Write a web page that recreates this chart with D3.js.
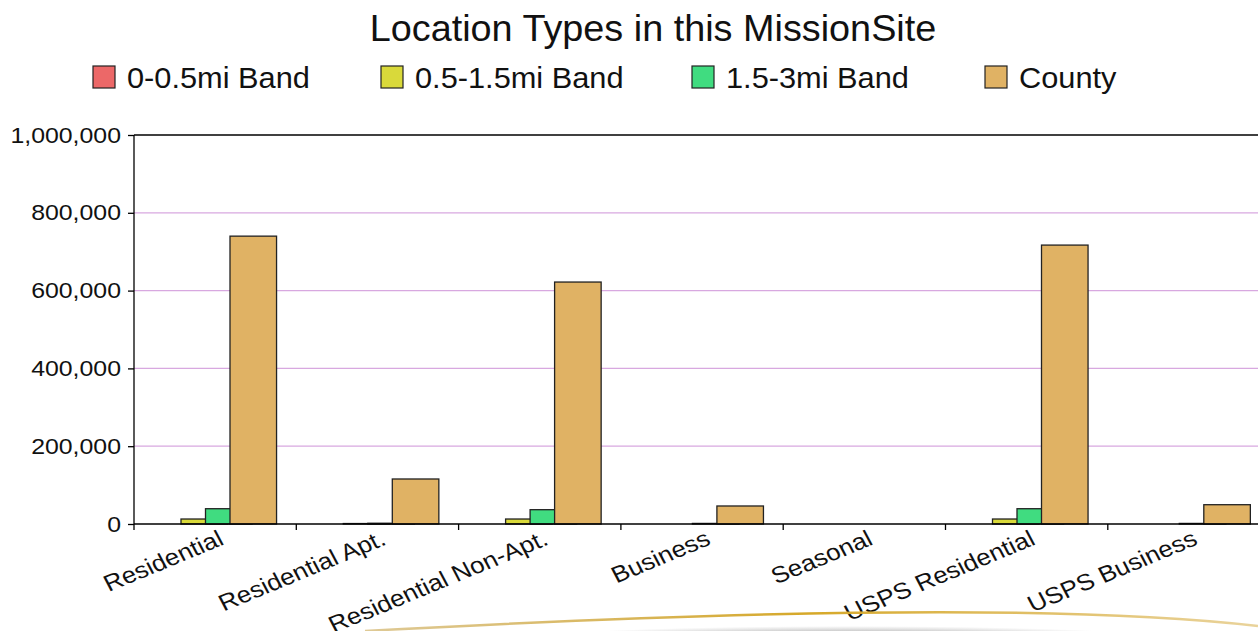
<!DOCTYPE html>
<html>
<head>
<meta charset="utf-8">
<script src="https://cdn.jsdelivr.net/npm/d3@7"></script>
<style>
  body { margin: 0; background: #fff; }
  svg text { font-family: "Liberation Sans", Arial, sans-serif; fill: #111; }
</style>
</head>
<body>
<svg id="chart" width="1258" height="631"></svg>
<script>
let categories = [
  "Residential",
  "Residential Apt.",
  "Residential Non-Apt.",
  "Business",
  "Seasonal",
  "USPS Residential",
  "USPS Business"
];
let seriesNames = ["0-0.5mi Band", "0.5-1.5mi Band", "1.5-3mi Band", "County"];
let colors = ["#ec6868", "#d9d93a", "#40dc80", "#e0b264"];

// one array per series, same order as categories
let band0 = [0, 0, 0, 0, 0, 0, 0];
let band1 = [12800, 1200, 12800, 0, 0, 12800, 0];
let band2 = [39300, 1800, 36800, 1500, 0, 39300, 1500];
let county = [740000, 115700, 622000, 46300, 0, 717000, 49600];
let seriesValues = [band0, band1, band2, county];

let yTicks = [0, 200000, 400000, 600000, 800000, 1000000];

let svg = d3.select("#chart");
let plotLeft = 134, plotTop = 135, plotBottom = 524;
let bandW = 162.3;

let x0 = d3.scaleBand()
  .domain(categories)
  .range([plotLeft, plotLeft + categories.length * bandW]);

// bars overlap: each series shifted by one step, bar is ~1.9 steps wide
let x1 = d3.scaleBand()
  .domain(seriesNames)
  .range([22.5, 22.5 + 4 * 24.5]);
let barW = x1.step() * 1.9;

let y = d3.scaleLinear().domain([0, 1000000]).range([plotBottom, plotTop]);

// widen a text a little, the original font is broader than Liberation
function widen(sel, k) {
  sel.each(function() {
    let len = this.getComputedTextLength();
    d3.select(this).attr("textLength", len * k).attr("lengthAdjust", "spacingAndGlyphs");
  });
}

// title
svg.append("text")
  .attr("x", 653)
  .attr("y", 41)
  .attr("text-anchor", "middle")
  .style("font-size", "36px")
  .text("Location Types in this MissionSite")
  .call(widen, 1.05);

// legend
let legendX = [93, 381, 692, 985];
let lg = svg.selectAll(".legend")
  .data(seriesNames)
  .enter()
  .append("g")
  .attr("class", "legend")
  .attr("transform", function(d, i) { return "translate(" + legendX[i] + ",66)"; });
lg.append("rect")
  .attr("width", 22)
  .attr("height", 22)
  .attr("fill", function(d, i) { return colors[i]; })
  .attr("stroke", "#222")
  .attr("stroke-width", 1.2);
lg.append("text")
  .attr("x", 34)
  .attr("y", 22)
  .style("font-size", "30px")
  .text(function(d) { return d; })
  .call(widen, 1.025);

// gridlines
svg.selectAll(".grid")
  .data(yTicks.filter(function(d) { return d > 0 && d < 1000000; }))
  .enter()
  .append("line")
  .attr("class", "grid")
  .attr("x1", plotLeft)
  .attr("x2", 1258)
  .attr("y1", function(d) { return y(d); })
  .attr("y2", function(d) { return y(d); })
  .attr("stroke", "#d8a8e0")
  .attr("stroke-width", 1.3);

// top border of plot
svg.append("line")
  .attr("x1", plotLeft).attr("x2", 1258)
  .attr("y1", plotTop).attr("y2", plotTop)
  .attr("stroke", "#000").attr("stroke-width", 1.3);

// bars
seriesValues.forEach(function(vals, s) {
  svg.append("g")
    .selectAll("rect")
    .data(categories.filter(function(d, i) { return vals[i] > 0; }))
    .enter()
    .append("rect")
    .attr("x", function(d) { return x0(d) + x1(seriesNames[s]); })
    .attr("y", function(d) { return y(vals[categories.indexOf(d)]); })
    .attr("width", barW)
    .attr("height", function(d) { return plotBottom - y(vals[categories.indexOf(d)]); })
    .attr("fill", colors[s])
    .attr("stroke", "#222")
    .attr("stroke-width", 1.3);
});

// y axis
let yAxis = svg.append("g")
  .attr("transform", "translate(" + plotLeft + ",0)")
  .call(d3.axisLeft(y).tickValues(yTicks).tickFormat(d3.format(",")).tickSize(6).tickPadding(7));
yAxis.selectAll("text").style("font-size", "22px").attr("fill", "#111").call(widen, 1.13);
yAxis.selectAll("line, path").attr("stroke", "#000").attr("stroke-width", 1.3);
yAxis.select(".domain").attr("d", "M0," + plotBottom + "V" + plotTop);

// x axis
svg.append("line")
  .attr("x1", plotLeft).attr("x2", 1258)
  .attr("y1", plotBottom).attr("y2", plotBottom)
  .attr("stroke", "#000").attr("stroke-width", 1.5);
svg.selectAll(".xtick")
  .data(categories)
  .enter()
  .append("line")
  .attr("class", "xtick")
  .attr("x1", function(d) { return x0(d); })
  .attr("x2", function(d) { return x0(d); })
  .attr("y1", plotBottom)
  .attr("y2", plotBottom + 6)
  .attr("stroke", "#000")
  .attr("stroke-width", 1.3);
// rotated labels, stretched sideways so the glyphs lean like the original
svg.selectAll(".xlabel")
  .data(categories)
  .enter()
  .append("text")
  .attr("class", "xlabel")
  .attr("text-anchor", "end")
  .attr("transform", function(d) {
    return "translate(" + (x0(d) + x0.bandwidth() / 2 + 10) + ",544) scale(1.13,1) rotate(-25)";
  })
  .style("font-size", "23px")
  .attr("fill", "#222")
  .text(function(d) { return d; });

// decorative swoosh at the bottom
let defs = svg.append("defs");
let gold = defs.append("linearGradient").attr("id", "gold");
gold.append("stop").attr("offset", "0%").attr("stop-color", "#c9a650").attr("stop-opacity", 0.6);
gold.append("stop").attr("offset", "50%").attr("stop-color", "#d6a828");
gold.append("stop").attr("offset", "100%").attr("stop-color", "#e0c070").attr("stop-opacity", 0.7);
let shade = defs.append("radialGradient").attr("id", "shade");
shade.append("stop").attr("offset", "45%").attr("stop-color", "#b8b8b8");
shade.append("stop").attr("offset", "100%").attr("stop-color", "#ffffff");
svg.append("ellipse")
  .attr("cx", 850).attr("cy", 639).attr("rx", 320).attr("ry", 13)
  .attr("fill", "url(#shade)");
svg.append("path")
  .attr("d", "M365,631 Q1000,596 1258,626")
  .attr("fill", "none")
  .attr("stroke", "url(#gold)")
  .attr("stroke-width", 2.5);
</script>
</body>
</html>
